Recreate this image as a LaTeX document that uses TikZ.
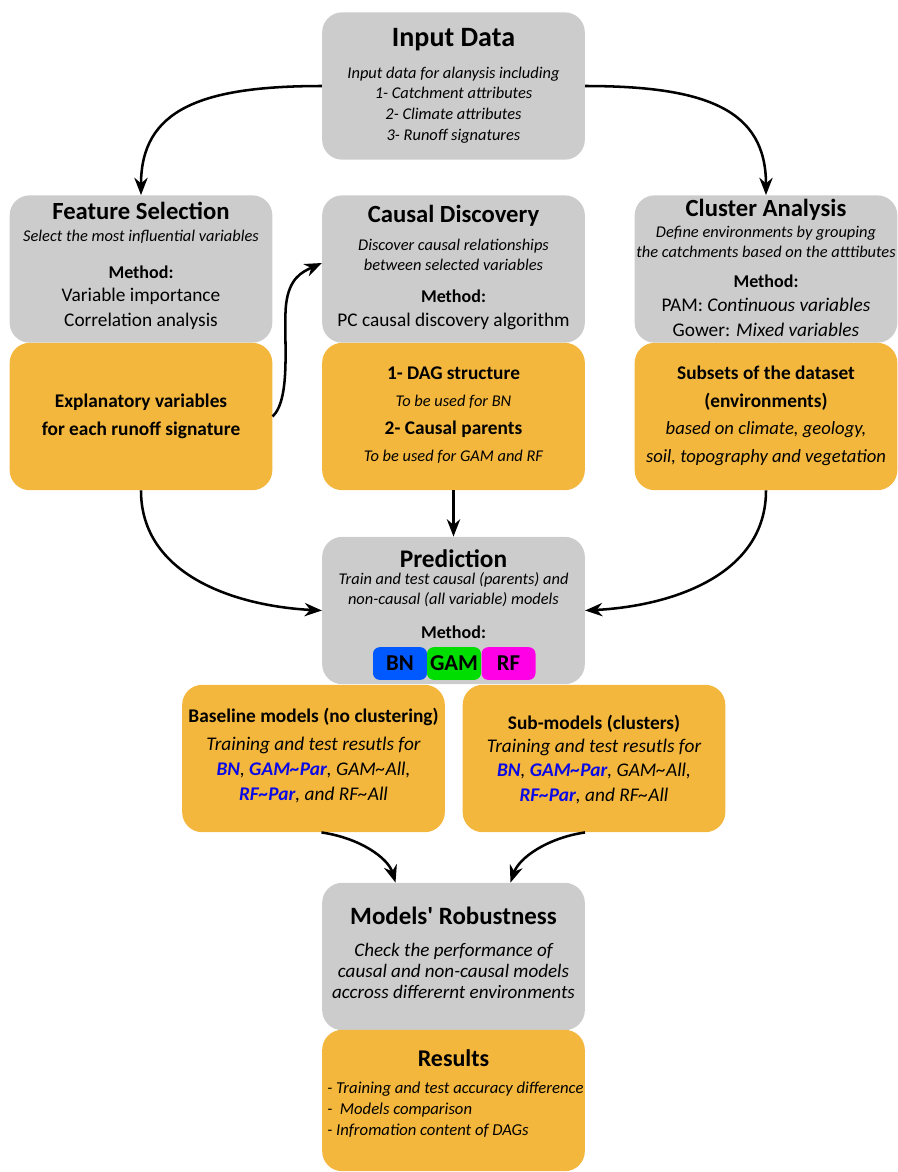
\documentclass[tikz,border=0pt]{standalone}
\usepackage{fontspec}
\setmainfont{Carlito}
\usepackage{xcolor}
\usetikzlibrary{positioning,calc,arrows.meta}

\definecolor{boxgray}{RGB}{204,204,204}
\definecolor{boxorange}{RGB}{244,183,62}
\definecolor{chipblue}{RGB}{0,88,255}
\definecolor{chipgreen}{RGB}{0,221,0}
\definecolor{chipmagenta}{RGB}{255,0,230}
\definecolor{txtblue}{RGB}{10,10,230}

\newcommand{\bluebf}[1]{\textcolor{txtblue}{\textbf{#1}}}
\newcommand{\tld}{\textasciitilde}

\tikzset{
  box/.style={rounded corners=15pt, minimum width=197pt, minimum height=110.5pt, inner sep=0pt},
  graybox/.style={box, fill=boxgray},
  orangebox/.style={box, fill=boxorange},
  chip/.style={rounded corners=5pt, minimum width=40.5pt, minimum height=24.5pt, inner sep=0pt,
    font=\bfseries\fontsize{17}{17}\selectfont},
  flow/.style={line width=1.9pt, -{Stealth[length=13pt,width=10pt]}},
  % upper boxes
  ttlA/.style={inner sep=0pt, align=center, font=\bfseries\fontsize{18.5}{21}\selectfont},
  itA/.style={inner sep=0pt, align=center, font=\itshape\fontsize{12.3}{15.5}\selectfont},
  mthA/.style={inner sep=0pt, align=center, font=\fontsize{14.5}{18.5}\selectfont},
  mlabel/.style={inner sep=0pt, align=center, font=\bfseries\fontsize{13.5}{16}\selectfont},
  bfA/.style={inner sep=0pt, align=center, font=\bfseries\fontsize{14.5}{21}\selectfont},
  % lower boxes
  ttlB/.style={inner sep=0pt, align=center, font=\bfseries\fontsize{19}{22}\selectfont},
  itB/.style={inner sep=0pt, align=center, font=\itshape\fontsize{12.3}{15}\selectfont},
  bfB/.style={inner sep=0pt, align=center, font=\bfseries\fontsize{14.5}{17}\selectfont},
}

\begin{document}
\begin{tikzpicture}[x=0.75pt,y=0.75pt,yscale=-1,xscale=1]
  \useasboundingbox (0,0) rectangle (898,1172);

  % Input data
  \node[graybox] (inp) at (453.5,86) {};
  \node[ttlA, font=\bfseries\fontsize{21}{23}\selectfont] (inp-t) at (453.5,40) {Input Data};
  \node[itA] (inp-d) at (453.5,105) {Input data for alanysis including\\1- Catchment attributes\\2- Climate attributes\\3- Runoff signatures};

  % Feature selection
  \node[graybox] (fs) at (141,269) {};
  \node[ttlA] (fs-t) at (141,211) {Feature Selection};
  \node[itA] (fs-d) at (141,237) {Select the most influential variables};
  \node[mlabel] (fs-m) at (141,272) {Method:};
  \node[mthA] (fs-l) at (141,309) {Variable importance\\Correlation analysis};
  \node[orangebox] (fso) at (141,416.5) {};
  \node[bfA] (fso-t) at (141,416) {Explanatory variables\\for each runoff signature};

  % Causal discovery
  \node[graybox] (cd) at (453.5,269) {};
  \node[ttlA] (cd-t) at (453.5,216) {Causal Discovery};
  \node[itA] (cd-d) at (453.5,255) {Discover causal relationships\\between selected variables};
  \node[mlabel] (cd-m) at (453.5,296) {Method:};
  \node[mthA] (cd-l) at (453.5,321) {PC causal discovery algorithm};
  \node[orangebox] (cdo) at (453.5,416.5) {};
  \node[bfA] (cdo-a) at (453.5,373) {1- DAG structure};
  \node[itA] (cdo-b) at (453.5,402) {To be used for BN};
  \node[bfA] (cdo-c) at (453.5,429) {2- Causal parents};
  \node[itA] (cdo-d) at (453.5,457) {To be used for GAM and RF};

  % Cluster analysis
  \node[graybox] (ca) at (766,269) {};
  \node[ttlA] (ca-t) at (766,210) {Cluster Analysis};
  \node[itA] (ca-d) at (766,242) {Define environments by grouping\\the catchments based on the atttibutes};
  \node[mlabel] (ca-m) at (766,281) {Method:};
  \node[mthA] (ca-l) at (766,317.5) {PAM: \textit{Continuous variables}\\Gower: \textit{Mixed variables}};
  \node[orangebox] (cao) at (766,416.5) {};
  \node[bfA] (cao-t) at (766,388) {Subsets of the dataset\\(environments)};
  \node[itA, font=\itshape\fontsize{14}{20.5}\selectfont] (cao-d) at (766,443.5) {based on climate, geology,\\soil, topography and vegetation};

  % Prediction
  \node[graybox] (pred) at (453.5,610.5) {};
  \node[ttlB] (pred-t) at (453.5,559) {Prediction};
  \node[itB] (pred-d) at (453.5,590) {Train and test causal (parents) and\\non-causal (all variable) models};
  \node[mlabel] (pred-m) at (453.5,632) {Method:};
  \node[chip, fill=chipblue] (bn) at (400,663.5) {BN};
  \node[chip, fill=chipgreen] (gam) at (454,663.5) {GAM};
  \node[chip, fill=chipmagenta] (rf) at (508.5,663.5) {RF};

  % Model outputs
  \node[orangebox] (base) at (313.5,758.5) {};
  \node[bfB] (base-t) at (313.5,717) {Baseline models (no clustering)};
  \node[itB, font=\itshape\fontsize{14.5}{19}\selectfont] (base-d) at (313.5,770) {Training and test resutls for\\\bluebf{BN}, \bluebf{GAM\tld Par}, GAM\tld All,\\\bluebf{RF\tld Par}, and RF\tld All};
  \node[orangebox] (sub) at (594,758.5) {};
  \node[bfB] (sub-t) at (594,724) {Sub-models (clusters)};
  \node[itB, font=\itshape\fontsize{14.5}{18.5}\selectfont] (sub-d) at (594,771.5) {Training and test resutls for\\\bluebf{BN}, \bluebf{GAM\tld Par}, GAM\tld All,\\\bluebf{RF\tld Par}, and RF\tld All};

  % Robustness and results
  \node[graybox] (rob) at (453.5,956.5) {};
  \node[ttlB, font=\bfseries\fontsize{18.7}{22}\selectfont] (rob-t) at (453.5,916) {Models\textquotesingle{} Robustness};
  \node[itB, font=\itshape\fontsize{14.3}{15.75}\selectfont] (rob-d) at (453.5,970.5) {Check the performance of\\causal and non-causal models\\accross differernt environments};
  \node[orangebox, minimum height=106pt] (res) at (453.5,1100.5) {};
  \node[ttlB, font=\bfseries\fontsize{18}{20}\selectfont] (res-t) at (453.5,1058) {Results};
  \node[itB, align=left, anchor=west, font=\itshape\fontsize{12.5}{15.75}\selectfont] (res-d) at (327,1110) {- Training and test accuracy difference\\-\ \ Models comparison\\- Infromation content of DAGs};

  % Connectors
  \draw[flow] (inp.west) .. controls (200,86) and (141,110) .. (fs.north);
  \draw[flow] (inp.east) .. controls (707,86) and (766,110) .. (ca.north);
  \draw[flow] (fso.east) .. controls (292,398) and (283,335) .. (286,305) .. controls (289,278) and (302,272) .. ($(cd.west)+(0,-6)$);
  \draw[flow] (fso.south) .. controls (141,575) and (235,606) .. (pred.west);
  \draw[flow] (cdo.south) -- (pred.north);
  \draw[flow] (cao.south) .. controls (766,575) and (672,606) .. (pred.east);
  \draw[flow] ($(base.south)+(8,0)$) .. controls (360,838) and (388,858) .. ($(rob.north)+(-58,0)$);
  \draw[flow] ($(sub.south)+(-9,0)$) .. controls (547,838) and (519,858) .. ($(rob.north)+(57,0)$);
\end{tikzpicture}
\end{document}
